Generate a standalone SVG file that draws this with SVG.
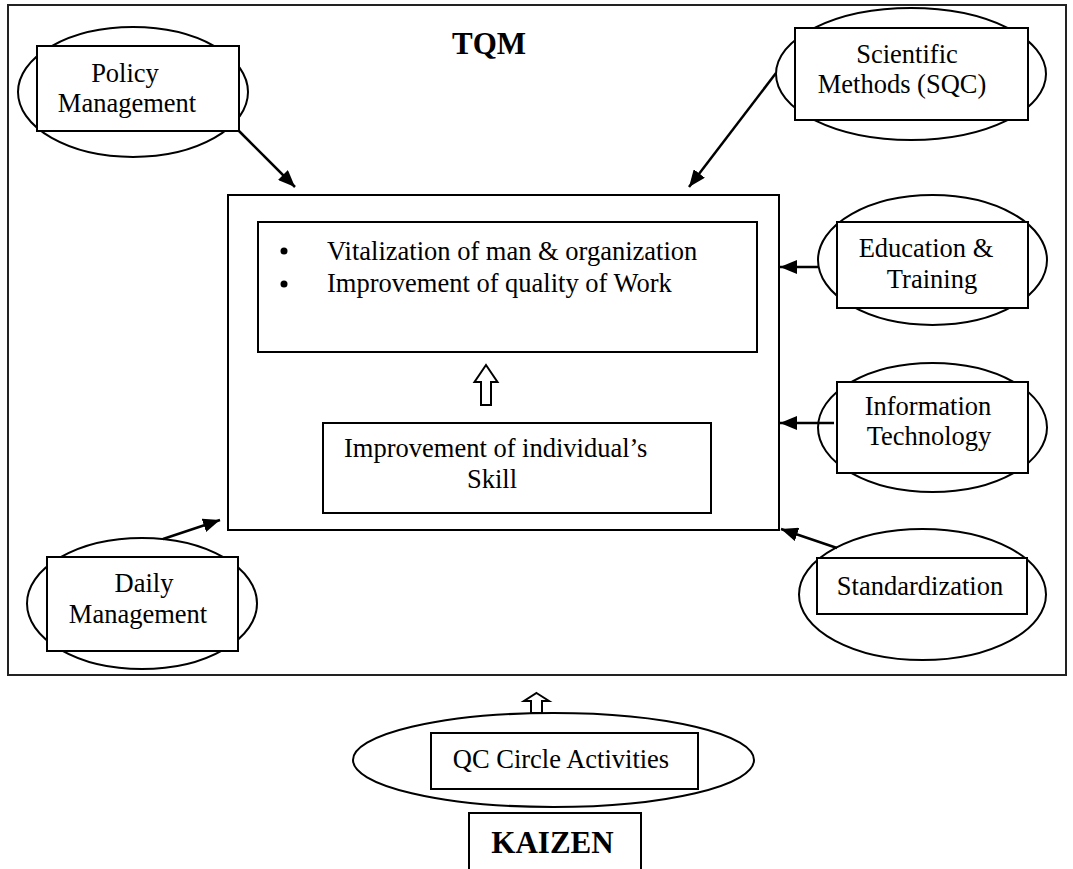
<svg xmlns="http://www.w3.org/2000/svg" width="1073" height="869" viewBox="0 0 1073 869">
  <style>
    .box { fill: #fff; stroke: #000; stroke-width: 2; }
    .ring { fill: #fff; stroke: #000; stroke-width: 2; }
    .frame { fill: none; stroke: #222; stroke-width: 2; }
    .lbl { font-family: "Liberation Serif", "Times New Roman", serif; font-size: 26.5px; fill: #000; }
    .mid { text-anchor: middle; }
    .bold { font-weight: bold; font-size: 31px; }
    .conn { stroke: #000; stroke-width: 2.5; fill: none; marker-end: url(#head); }
    .hollow { fill: #fff; stroke: #000; stroke-width: 2; stroke-linejoin: miter; }
  </style>
  <defs>
    <marker id="head" markerUnits="userSpaceOnUse" markerWidth="18" markerHeight="14" refX="17" refY="7" orient="auto">
      <path d="M0,0 L17,7 L0,14 Z" fill="#000"/>
    </marker>
  </defs>

  <rect width="1073" height="869" fill="#fff"/>

  <!-- TQM frame -->
  <g id="tqm">
    <rect class="frame" x="8" y="5" width="1058" height="670"/>
    <text class="lbl mid bold" x="489" y="54">TQM</text>
  </g>

  <!-- central block -->
  <g id="core">
    <rect class="box" x="228" y="195" width="551" height="335"/>
  </g>
  <g id="goals">
    <rect class="box" x="258" y="222" width="499" height="130"/>
    <circle cx="284" cy="251" r="3.5" fill="#000"/>
    <circle cx="284" cy="284" r="3.5" fill="#000"/>
    <text class="lbl" x="327" y="260">Vitalization of man &amp; organization</text>
    <text class="lbl" x="327" y="292">Improvement of quality of Work</text>
  </g>
  <g id="skill">
    <rect class="box" x="323" y="423" width="388" height="90"/>
    <text class="lbl" x="344" y="457">Improvement of individual’s</text>
    <text class="lbl" x="467" y="488">Skill</text>
  </g>

  <!-- surrounding elements -->
  <g id="policy">
    <ellipse class="ring" cx="133" cy="92" rx="115" ry="65"/>
    <rect class="box" x="37" y="46" width="202" height="85"/>
    <text class="lbl mid" x="125" y="82">Policy</text>
    <text class="lbl mid" x="127" y="112">Management</text>
  </g>
  <g id="scientific">
    <ellipse class="ring" cx="911" cy="74" rx="135" ry="66"/>
    <rect class="box" x="795" y="28" width="233" height="92"/>
    <text class="lbl mid" x="907" y="63">Scientific</text>
    <text class="lbl mid" x="902" y="93">Methods (SQC)</text>
  </g>
  <g id="education">
    <ellipse class="ring" cx="932.5" cy="260" rx="114.5" ry="65"/>
    <rect class="box" x="837" y="222" width="191" height="86"/>
    <text class="lbl mid" x="926" y="257">Education &amp;</text>
    <text class="lbl mid" x="932" y="288">Training</text>
  </g>
  <g id="infotech">
    <ellipse class="ring" cx="932.5" cy="427.5" rx="114.5" ry="64.5"/>
    <rect class="box" x="837" y="382" width="191" height="91"/>
    <text class="lbl mid" x="928" y="415">Information</text>
    <text class="lbl mid" x="929" y="445">Technology</text>
  </g>
  <g id="standardization">
    <ellipse class="ring" cx="922.5" cy="594.5" rx="123.5" ry="65.5"/>
    <rect class="box" x="817" y="558" width="210" height="56"/>
    <text class="lbl mid" x="920" y="595">Standardization</text>
  </g>
  <g id="daily">
    <ellipse class="ring" cx="142" cy="603.5" rx="115" ry="65.5"/>
    <rect class="box" x="47" y="557" width="191" height="94"/>
    <text class="lbl mid" x="144" y="592">Daily</text>
    <text class="lbl mid" x="138" y="623">Management</text>
  </g>

  <!-- foundation below the frame -->
  <g id="qc-circle">
    <ellipse class="ring" cx="553.5" cy="760" rx="200.5" ry="47"/>
    <rect class="box" x="431" y="733" width="267" height="56"/>
    <text class="lbl mid" x="561" y="768">QC Circle Activities</text>
  </g>
  <g id="kaizen">
    <rect class="box" x="469" y="813" width="172" height="60"/>
    <text class="lbl mid bold" x="552.5" y="853">KAIZEN</text>
  </g>

  <!-- connectors -->
  <g id="connectors">
    <line class="conn" x1="239" y1="131" x2="295" y2="187"/>
    <line class="conn" x1="776" y1="73" x2="689" y2="187"/>
    <line class="conn" x1="818" y1="267" x2="780" y2="267"/>
    <line class="conn" x1="834" y1="423" x2="780" y2="423"/>
    <line class="conn" x1="837" y1="548" x2="781" y2="529"/>
    <line class="conn" x1="163" y1="539" x2="220" y2="520"/>
    <!-- hollow block arrows -->
    <polygon class="hollow" points="486,365 497.5,382 491,382 491,405 481,405 481,382 474.5,382"/>
    <polygon class="hollow" points="536.5,693 549,701 542,701 542,713 531,713 531,701 524,701"/>
  </g>
</svg>
